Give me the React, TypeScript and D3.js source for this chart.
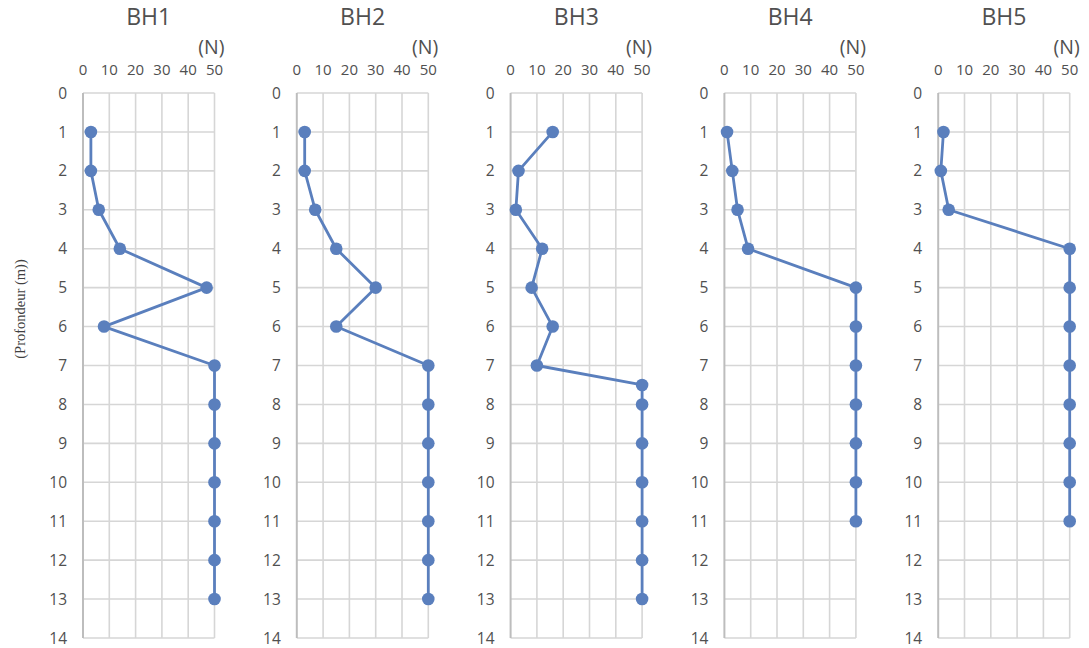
import React, { useEffect, useRef } from 'react';
import * as d3 from 'd3';

// SPT blow counts (N) by depth (m), one series per borehole
const boreholes = ['BH1', 'BH2', 'BH3', 'BH4', 'BH5'];

const bh1Depth = [1, 2, 3, 4, 5, 6, 7, 8, 9, 10, 11, 12, 13];
const bh1N = [3, 3, 6, 14, 47, 8, 50, 50, 50, 50, 50, 50, 50];

const bh2Depth = [1, 2, 3, 4, 5, 6, 7, 8, 9, 10, 11, 12, 13];
const bh2N = [3, 3, 7, 15, 30, 15, 50, 50, 50, 50, 50, 50, 50];

const bh3Depth = [1, 2, 3, 4, 5, 6, 7, 7.5, 8, 9, 10, 11, 12, 13];
const bh3N = [16, 3, 2, 12, 8, 16, 10, 50, 50, 50, 50, 50, 50, 50];

const bh4Depth = [1, 2, 3, 4, 5, 6, 7, 8, 9, 10, 11];
const bh4N = [1, 3, 5, 9, 50, 50, 50, 50, 50, 50, 50];

const bh5Depth = [1, 2, 3, 4, 5, 6, 7, 8, 9, 10, 11];
const bh5N = [2, 1, 4, 50, 50, 50, 50, 50, 50, 50, 50];

const depthSeries = [bh1Depth, bh2Depth, bh3Depth, bh4Depth, bh5Depth];
const nSeries = [bh1N, bh2N, bh3N, bh4N, bh5N];

const nTicks = [0, 10, 20, 30, 40, 50];
const depthTicks = d3.range(0, 15);

const yLabel = '(Profondeur (m))';
const unitLabel = '(N)';

const width = 1089;
const height = 648;

export default function App() {
  const svgRef = useRef<SVGSVGElement>(null);

  useEffect(() => {
    if (!svgRef.current) return;
    const svg = d3.select(svgRef.current);
    svg.selectAll('*').remove();

    const top = 93;
    const bottom = 638;
    const firstLeft = 83;
    const step = 213.8;
    const panelW = 131.5;
    const font = "'Open Sans', 'Noto Sans', sans-serif";
    const textColor = '#505050';
    const blue = '#5a7fbd';

    const yScale = d3.scaleLinear().domain([0, 14]).range([top, bottom]);

    boreholes.forEach((name, i) => {
      const left = firstLeft + i * step;
      const xScale = d3.scaleLinear().domain([0, 50]).range([left, left + panelW]);
      const g = svg.append('g');

      // grid
      g.selectAll('.hgrid')
        .data(depthTicks)
        .enter()
        .append('line')
        .attr('x1', xScale(0))
        .attr('x2', xScale(50))
        .attr('y1', d => yScale(d))
        .attr('y2', d => yScale(d))
        .attr('stroke', '#d6d6d6')
        .attr('stroke-width', 1.6);

      g.selectAll('.vgrid')
        .data(nTicks)
        .enter()
        .append('line')
        .attr('x1', d => xScale(d))
        .attr('x2', d => xScale(d))
        .attr('y1', yScale(0))
        .attr('y2', yScale(14))
        .attr('stroke', d => (d === 0 ? '#bdbdbd' : '#d6d6d6'))
        .attr('stroke-width', d => (d === 0 ? 2 : 1.6));

      // top tick labels
      g.selectAll('.xlab')
        .data(nTicks)
        .enter()
        .append('text')
        .attr('x', d => xScale(d))
        .attr('y', 75)
        .attr('text-anchor', 'middle')
        .attr('font-family', font)
        .attr('font-size', 15)
        .attr('fill', textColor)
        .text(d => d);

      // depth labels
      g.selectAll('.ylab')
        .data(depthTicks)
        .enter()
        .append('text')
        .attr('x', left - 16)
        .attr('y', d => yScale(d))
        .attr('dy', '0.36em')
        .attr('text-anchor', 'end')
        .attr('font-family', font)
        .attr('font-size', 15.5)
        .attr('fill', textColor)
        .text(d => d);

      // title and unit
      g.append('text')
        .attr('x', left + panelW / 2)
        .attr('y', 25)
        .attr('text-anchor', 'middle')
        .attr('font-family', font)
        .attr('font-size', 23)
        .attr('fill', textColor)
        .text(name);

      g.append('text')
        .attr('x', left + panelW + 10)
        .attr('y', 54)
        .attr('text-anchor', 'end')
        .attr('font-family', font)
        .attr('font-size', 19.5)
        .attr('fill', textColor)
        .text(unitLabel);

      const pts = depthSeries[i].map((dep, k) => ({ dep, n: nSeries[i][k] }));

      const line = d3.line<{ dep: number; n: number }>()
        .x(d => xScale(d.n))
        .y(d => yScale(d.dep));

      g.append('path')
        .datum(pts)
        .attr('fill', 'none')
        .attr('stroke', blue)
        .attr('stroke-width', 2.8)
        .attr('stroke-linejoin', 'round')
        .attr('d', line);

      g.selectAll('.pt')
        .data(pts)
        .enter()
        .append('circle')
        .attr('cx', d => xScale(d.n))
        .attr('cy', d => yScale(d.dep))
        .attr('r', 6.3)
        .attr('fill', blue);
    });

    svg.append('text')
      .attr('transform', `translate(25, 309) rotate(-90)`)
      .attr('text-anchor', 'middle')
      .attr('font-family', "'Liberation Serif', 'DejaVu Serif', serif")
      .attr('font-size', 14.5)
      .attr('fill', '#404040')
      .text(yLabel);
  }, []);

  return (
    <svg
      ref={svgRef}
      width={width}
      height={height}
      style={{ position: 'absolute', left: 0, top: 0, background: 'white' }}
    />
  );
}
